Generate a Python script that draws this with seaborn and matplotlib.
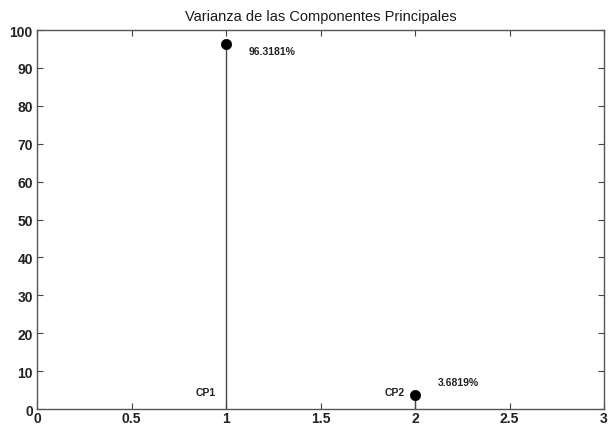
import matplotlib
matplotlib.use("Agg")
import matplotlib.pyplot as plt
import seaborn as sns
import pandas as pd

# Explained variance of each principal component (percent)
componentes = ["CP1", "CP2"]
posiciones = [1, 2]
varianza = [96.3181, 3.6819]

df = pd.DataFrame({"pos": posiciones, "var": varianza, "cp": componentes})

sns.set_theme(style="white")
plt.rcParams["font.family"] = ["Liberation Sans", "DejaVu Sans"]

fig = plt.figure(figsize=(6.08, 4.27), dpi=100)
ax = fig.add_axes([0.0609, 0.0398, 0.9326, 0.8876])

# stems
ax.vlines(df["pos"], 0, df["var"], color="#444444", linewidth=1.0, zorder=2)
sns.scatterplot(data=df, x="pos", y="var", ax=ax, color="black", s=55,
                edgecolor="black", linewidth=0.5, zorder=3, legend=False)

# percentage and component labels
for p, v, c in zip(df["pos"], df["var"], df["cp"]):
    ax.text(p + 0.12, v - 1.8 if v > 50 else v + 3.4, f"{v:.4f}%",
            fontsize=7.5, fontweight="bold", ha="left", va="center", color="#222222")
    ax.text(p - 0.11, 4.5, c, fontsize=7.5, fontweight="bold",
            ha="center", va="center", color="#222222")

ax.set_xlim(0, 3)
ax.set_ylim(0, 100)
ax.set_xticks([0, 0.5, 1, 1.5, 2, 2.5, 3])
ax.set_xticklabels(["0", "0.5", "1", "1.5", "2", "2.5", "3"])
ax.set_yticks(range(0, 101, 10))
ax.set_xlabel("")
ax.set_ylabel("")
ax.tick_params(direction="in", length=4, width=0.8, color="#444444",
               top=True, right=True, bottom=True, left=True,
               labelsize=10, pad=3)
ax.tick_params(axis="x", pad=1.5)
for lbl in ax.get_xticklabels() + ax.get_yticklabels():
    lbl.set_fontweight("bold")
    lbl.set_color("#222222")
for s in ax.spines.values():
    s.set_color("#555555")
    s.set_linewidth(1.0)
ax.set_title("Varianza de las Componentes Principales", fontsize=10.5,
             color="#1a1a1a", pad=7)

fig.savefig("out.png", dpi=100)
